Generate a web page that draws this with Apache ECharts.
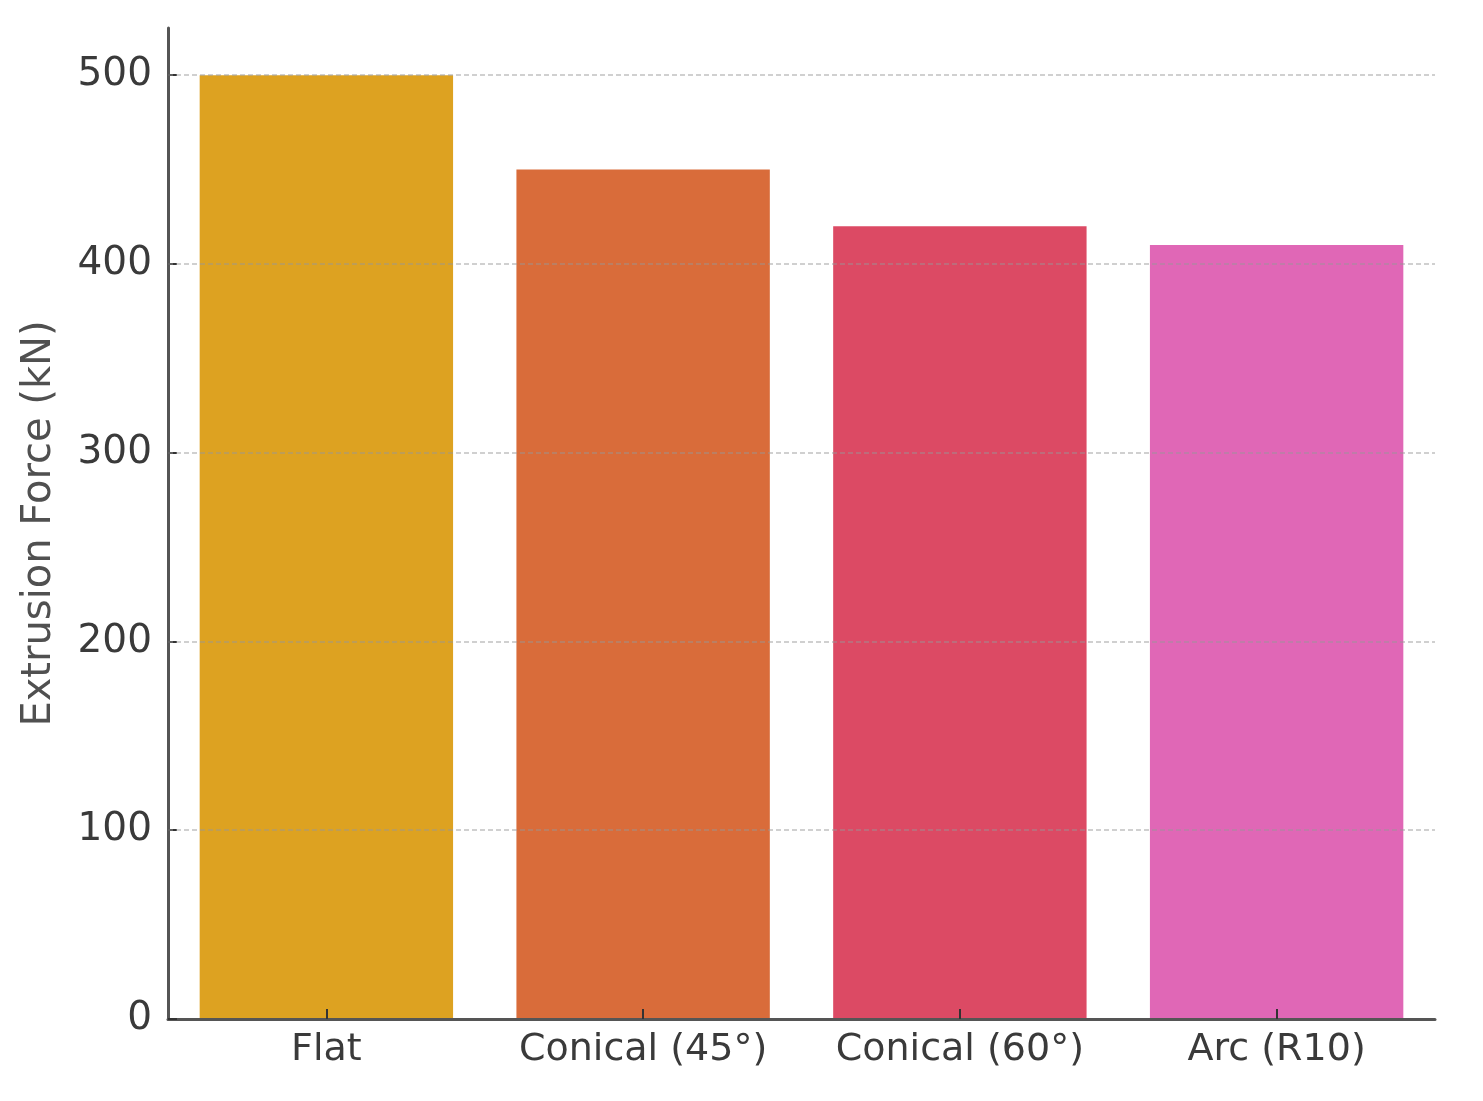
<!DOCTYPE html>
<html>
<head>
<meta charset="utf-8">
<title>Extrusion Force</title>
<script src="https://cdn.jsdelivr.net/npm/echarts@6/dist/echarts.min.js"></script>
<style>
  html, body { margin: 0; padding: 0; background: #fff; }
  #main { width: 1483px; height: 1101px; }
</style>
</head>
<body>
<div id="main"></div>
<script>
// data
var categories = ['Flat', 'Conical (45°)', 'Conical (60°)', 'Arc (R10)'];
var forces = [500, 450, 420, 410];
var barColors = ['#DDA221', '#D96C3A', '#DC4A64', '#E067B6'];
var yTicks = [0, 100, 200, 300, 400, 500];

var chart = echarts.init(document.getElementById('main'));

chart.setOption({
  animation: false,
  textStyle: { fontFamily: 'DejaVu Sans' },
  grid: { left: 168, right: 48, top: 28, bottom: 82, containLabel: false },
  xAxis: {
    type: 'category',
    data: categories,
    z: 3,
    axisLine: { lineStyle: { color: '#555', width: 3 } },
    axisTick: { show: true, inside: true, length: 10, alignWithLabel: true, lineStyle: { color: '#333', width: 2 } },
    axisLabel: { color: '#3a3a3a', fontSize: 38, margin: 12, interval: 0, hideOverlap: false },
    splitLine: { show: false }
  },
  yAxis: {
    type: 'value',
    min: 0,
    max: 525,
    interval: 100,
    z: 3,
    name: 'Extrusion Force (kN)',
    nameLocation: 'middle',
    nameGap: 108,
    nameTextStyle: { color: '#505050', fontSize: 40 },
    axisLine: { show: true, lineStyle: { color: '#555', width: 3 } },
    axisTick: { show: true, inside: true, length: 9, customValues: yTicks, lineStyle: { color: '#333', width: 2 } },
    axisLabel: { color: '#3a3a3a', fontSize: 39, margin: 16, customValues: yTicks },
    splitLine: { show: false }
  },
  series: [{
    type: 'bar',
    barCategoryGap: '20%',
    data: forces.map(function (v, i) {
      return { value: v, itemStyle: { color: barColors[i] } };
    }),
    markLine: {
      silent: true,
      symbol: 'none',
      label: { show: false },
      lineStyle: { color: 'rgba(150,150,150,0.45)', type: [5, 3], width: 2 },
      data: yTicks.slice(1).map(function (t) { return { yAxis: t }; })
    }
  }]
});
</script>
</body>
</html>
